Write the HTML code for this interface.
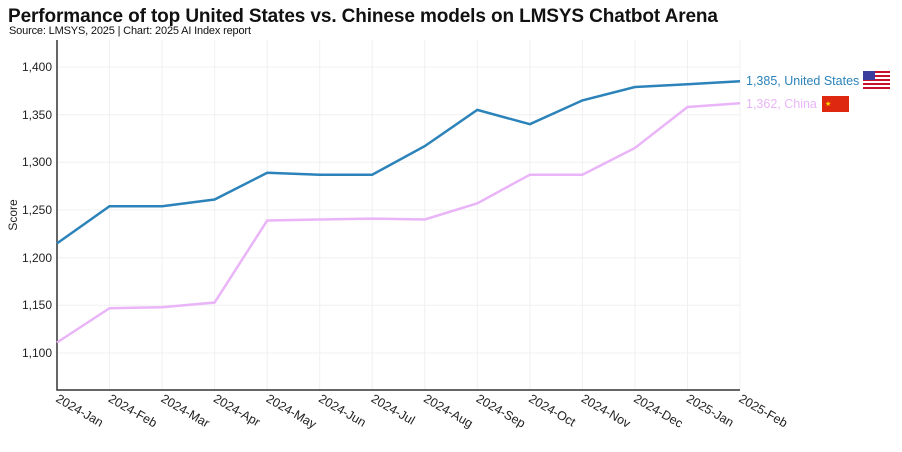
<!DOCTYPE html>
<html><head><meta charset="utf-8"><style>
body{margin:0;background:#fff;width:902px;height:447px;overflow:hidden;font-family:"Liberation Sans",sans-serif}
</style></head><body>
<svg width="902" height="447" xmlns="http://www.w3.org/2000/svg" font-family="Liberation Sans, sans-serif">
<text x="8" y="22" font-size="19" font-weight="bold" fill="#111" textLength="710">Performance of top United States vs. Chinese models on LMSYS Chatbot Arena</text>
<text x="9" y="34" font-size="11" fill="#111" textLength="242">Source: LMSYS, 2025 | Chart: 2025 AI Index report</text>
<g stroke="#f0f0f0" stroke-width="1">
<line x1="57" x2="740" y1="67" y2="67"/><line x1="57" x2="740" y1="114.7" y2="114.7"/><line x1="57" x2="740" y1="162.3" y2="162.3"/><line x1="57" x2="740" y1="210" y2="210"/><line x1="57" x2="740" y1="257.7" y2="257.7"/><line x1="57" x2="740" y1="305.3" y2="305.3"/><line x1="57" x2="740" y1="353" y2="353"/>
<line x1="109.5" x2="109.5" y1="40" y2="390"/><line x1="162.1" x2="162.1" y1="40" y2="390"/><line x1="214.6" x2="214.6" y1="40" y2="390"/><line x1="267.2" x2="267.2" y1="40" y2="390"/><line x1="319.7" x2="319.7" y1="40" y2="390"/><line x1="372.2" x2="372.2" y1="40" y2="390"/><line x1="424.8" x2="424.8" y1="40" y2="390"/><line x1="477.3" x2="477.3" y1="40" y2="390"/><line x1="529.9" x2="529.9" y1="40" y2="390"/><line x1="582.4" x2="582.4" y1="40" y2="390"/><line x1="634.9" x2="634.9" y1="40" y2="390"/><line x1="687.5" x2="687.5" y1="40" y2="390"/><line x1="740" x2="740" y1="40" y2="390"/>
</g>
<path d="M57 40V390H740" fill="none" stroke="#333" stroke-width="1.5"/>
<g font-size="12" fill="#222" text-anchor="end">
<text x="52" y="71">1,400</text><text x="52" y="119">1,350</text><text x="52" y="166">1,300</text><text x="52" y="214">1,250</text><text x="52" y="262">1,200</text><text x="52" y="309">1,150</text><text x="52" y="357">1,100</text>
</g>
<text transform="translate(17,215) rotate(-90)" font-size="12" fill="#222" text-anchor="middle">Score</text>
<g font-size="12.5" fill="#222">
<text transform="translate(55,401) rotate(30)">2024-Jan</text>
<text transform="translate(107.5,401) rotate(30)">2024-Feb</text>
<text transform="translate(160.1,401) rotate(30)">2024-Mar</text>
<text transform="translate(212.6,401) rotate(30)">2024-Apr</text>
<text transform="translate(265.2,401) rotate(30)">2024-May</text>
<text transform="translate(317.7,401) rotate(30)">2024-Jun</text>
<text transform="translate(370.2,401) rotate(30)">2024-Jul</text>
<text transform="translate(422.8,401) rotate(30)">2024-Aug</text>
<text transform="translate(475.3,401) rotate(30)">2024-Sep</text>
<text transform="translate(527.9,401) rotate(30)">2024-Oct</text>
<text transform="translate(580.4,401) rotate(30)">2024-Nov</text>
<text transform="translate(632.9,401) rotate(30)">2024-Dec</text>
<text transform="translate(685.5,401) rotate(30)">2025-Jan</text>
<text transform="translate(738,401) rotate(30)">2025-Feb</text>
</g>
<polyline fill="none" stroke="#eab5f8" stroke-width="2.5" points="57,342.5 109.5,308.2 162.1,307.2 214.6,302.5 267.2,220.5 319.7,219.5 372.2,218.6 424.8,219.5 477.3,203.3 529.9,174.7 582.4,174.7 634.9,148 687.5,107 740,103.2"/>
<polyline fill="none" stroke="#2b83ba" stroke-width="2.5" points="57,243.4 109.5,206.2 162.1,206.2 214.6,199.5 267.2,172.8 319.7,174.7 372.2,174.7 424.8,146.1 477.3,109.9 529.9,124.2 582.4,100.4 634.9,87 687.5,84.2 740,81.3"/>
<text x="746" y="85" font-size="12.5" fill="#2b83ba">1,385, United States</text>
<text x="746" y="108" font-size="12.5" fill="#eab5f8">1,362, China</text>
<g>
<rect x="863" y="71" width="27" height="18" fill="#fff"/>
<g fill="#c8102e"><rect x="863" y="71" width="27" height="2"/><rect x="863" y="75" width="27" height="2"/><rect x="863" y="79" width="27" height="2"/><rect x="863" y="83" width="27" height="2"/><rect x="863" y="87" width="27" height="2"/></g>
<rect x="863" y="71" width="12" height="9" fill="#3c3b9e"/>
</g>
<rect x="822" y="96" width="27" height="16" fill="#de2910"/>
<text x="825" y="106" font-size="7" fill="#ffde00">★</text>
</svg>
</body></html>
